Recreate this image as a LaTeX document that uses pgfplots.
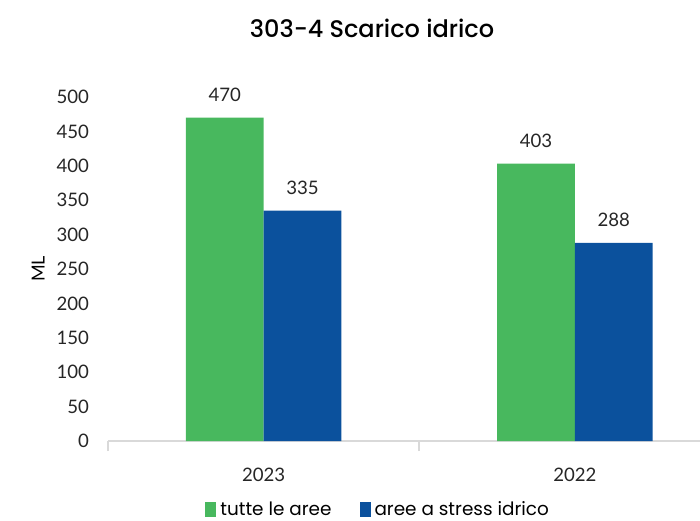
\documentclass[border=0pt]{standalone}
\usepackage{fontspec}
\setmainfont{Lato}
\newfontfamily\poppins{Poppins}
\newfontfamily\titlefont{Poppins Medium}
\usepackage{pgfplots}
\pgfplotsset{compat=1.18}
\definecolor{barGreen}{RGB}{72,184,94}
\definecolor{barBlue}{RGB}{11,81,157}
\definecolor{axisGray}{RGB}{217,217,217}

\begin{document}
\begin{tikzpicture}
\path[use as bounding box] (0,0) rectangle (350pt,260pt);
\node[font=\titlefont\fontsize{12}{14}\selectfont] at (186pt,246pt) {303-4 Scarico idrico};
\begin{axis}[
    at={(54pt,39.5pt)}, anchor=south west,
    scale only axis, width=296pt, height=172pt,
    ybar=0pt, bar width=0.25,
    xmin=-0.5, xmax=1.402, ymin=0, ymax=500,
    xtick={0,1}, xticklabels={2023,2022},
    extra x ticks={-0.5,0.5}, extra x tick labels={},
    extra x tick style={major tick style={draw=axisGray, line width=0.8pt}, major tick length=5pt, tick align=outside},
    ytick={0,50,...,500},
    axis x line*=bottom, axis y line*=left,
    x axis line style={draw=axisGray, line width=0.8pt, -},
    y axis line style={draw=none},
    major tick style={draw=none},
    /pgf/number format/assume math mode=true,
    ticklabel style={font=\fontsize{9.3}{10}\selectfont, text=black!85},
    yticklabel style={xshift=-6pt},
    xticklabel style={yshift=-5.5pt},
    ylabel={ML},
    every axis y label/.style={at={(axis description cs:-0.118,0.5)}, rotate=90, anchor=center, font=\fontsize{9}{10}\selectfont},
    nodes near coords,
    nodes near coords style={font=\fontsize{9.3}{10}\selectfont, text=black!85, yshift=4.5pt},
    legend style={at={(axis description cs:0.458,-0.2)}, anchor=center, draw=none, fill=none,
        inner sep=1pt, legend columns=2, font=\poppins\fontsize{9.2}{10}\selectfont,
        /tikz/every even column/.append style={column sep=12pt}},
    legend image code/.code={\path[#1] (0pt,-3.5pt) rectangle (5.5pt,3.8pt);},
]
\addplot[fill=barGreen, draw=none] coordinates {(0,470) (1,403)};
\addplot[fill=barBlue, draw=none] coordinates {(0,335) (1,288)};
\legend{tutte le aree, aree a stress idrico}
\end{axis}
\end{tikzpicture}
\end{document}
